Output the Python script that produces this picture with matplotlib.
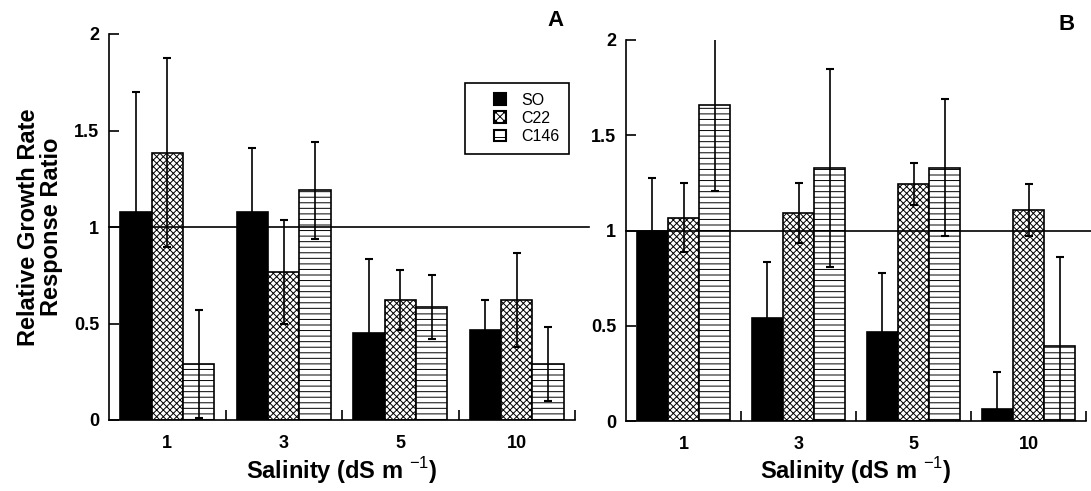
import matplotlib
matplotlib.use('Agg')
import matplotlib.pyplot as plt
import numpy as np
from matplotlib.patches import Patch, Rectangle
from matplotlib.legend_handler import HandlerPatch

plt.rcParams['font.family'] = ['Liberation Sans', 'DejaVu Sans']
plt.rcParams['hatch.linewidth'] = 0.7
plt.rcParams['hatch.color'] = 'black'
plt.rcParams['mathtext.fontset'] = 'custom'
plt.rcParams['mathtext.rm'] = 'Liberation Sans'
plt.rcParams['mathtext.bf'] = 'Liberation Sans:bold'

# ---------------- data ----------------
categories = ['1', '3', '5', '10']
series = ['SO', 'C22', 'C146']

a_so = [1.08, 1.08, 0.45, 0.465]
a_so_err = [0.62, 0.33, 0.385, 0.155]
a_c22 = [1.385, 0.765, 0.62, 0.62]
a_c22_err = [0.49, 0.27, 0.156, 0.243]
a_c146 = [0.29, 1.19, 0.585, 0.29]
a_c146_err = [0.28, 0.25, 0.165, 0.19]

b_so = [1.0, 0.54, 0.467, 0.065]
b_so_err = [0.275, 0.294, 0.31, 0.19]
b_c22 = [1.068, 1.094, 1.243, 1.108]
b_c22_err = [0.18, 0.157, 0.11, 0.135]
b_c146 = [1.66, 1.33, 1.33, 0.393]
b_c146_err = [0.455, 0.52, 0.36, 0.47]

yticks = [0, 0.5, 1, 1.5, 2]
yticklabels = ['0', '0.5', '1', '1.5', '2']

# ---------------- figure ----------------
W, H = 1091, 491
fig = plt.figure(figsize=(W / 100, H / 100), dpi=100)
axA = fig.add_axes([109 / W, 1 - 420 / H, 466 / W, 386 / H])
axB = fig.add_axes([626 / W, 1 - 421 / H, 460 / W, 381 / H])

styles = [
    dict(color='black', hatch=None),
    dict(color='white', hatch='xxxxx'),
    dict(color='white', hatch='---'),
]
bar_w = 0.27
offsets = [-0.27, 0.0, 0.27]
centers = np.arange(len(categories)) + 0.5


def draw_panel(ax, vals_list, errs_list, line_xmax):
    for vals, errs, off, st in zip(vals_list, errs_list, offsets, styles):
        ax.bar(centers + off, vals, bar_w, color=st['color'], edgecolor='black',
               linewidth=1.2, hatch=st['hatch'], zorder=2)
        ax.errorbar(centers + off, vals, yerr=errs, fmt='none', ecolor='black',
                    elinewidth=1.2, capsize=3, capthick=1.5, zorder=3)
    ax.axhline(1, xmin=0, xmax=line_xmax, color='black', lw=1.2, zorder=2.5,
               clip_on=False)
    ax.set_xlim(0, len(categories))
    ax.set_ylim(0, 2)
    for s in ['top', 'right']:
        ax.spines[s].set_visible(False)
    for s in ['left', 'bottom']:
        ax.spines[s].set_linewidth(1.2)
    ax.set_xticks(centers, categories)
    ax.set_xticks(np.arange(1, len(categories) + 1), minor=True)
    ax.tick_params(axis='x', which='major', length=0, pad=11, labelsize=13)
    ax.tick_params(axis='x', which='minor', direction='in', length=7, width=1.2)
    ax.set_yticks(yticks, yticklabels)
    ax.tick_params(axis='y', which='major', direction='in', length=7, width=1.2,
                   pad=7, labelsize=13)
    for lbl in ax.get_xticklabels() + ax.get_yticklabels():
        lbl.set_fontweight('bold')
    ax.set_xlabel('Salinity (dS m $^{-1}$)', fontsize=17, fontweight='bold')
    ax.xaxis.set_label_coords(0.5, -0.09)


draw_panel(axA, [a_so, a_c22, a_c146], [a_so_err, a_c22_err, a_c146_err], 1.03)
draw_panel(axB, [b_so, b_c22, b_c146], [b_so_err, b_c22_err, b_c146_err], 1.011)

axA.set_ylabel('Relative Growth Rate\nResponse Ratio', fontsize=17,
               fontweight='bold', linespacing=1.0)
axA.yaxis.set_label_coords(-0.099, 0.5)

fig.text(555 / W, 1 - 20 / H, 'A', ha='center', va='center', fontsize=16,
         fontweight='bold')
fig.text(1067 / W, 1 - 25 / H, 'B', ha='center', va='center', fontsize=16,
         fontweight='bold')


class SquareHandler(HandlerPatch):
    def create_artists(self, legend, orig_handle, xdescent, ydescent, width,
                       height, fontsize, trans):
        s = height
        p = Rectangle((width - s - xdescent, -ydescent), s, s)
        self.update_prop(p, orig_handle, legend)
        p.set_transform(trans)
        return [p]


handles = [
    Patch(facecolor='black', edgecolor='black', linewidth=1.5),
    Patch(facecolor='white', edgecolor='black', hatch='xxxx', linewidth=1.5),
    Patch(facecolor='white', edgecolor='black', hatch='--', linewidth=1.5),
]
leg = axA.legend(handles, series, loc='upper left',
                 bbox_to_anchor=(465 / W, 1 - 83 / H),
                 bbox_transform=fig.transFigure, frameon=True, fancybox=False,
                 edgecolor='black', framealpha=1, fontsize=11.5,
                 handlelength=1.95, handleheight=0.75, handletextpad=0.95,
                 borderpad=0.6, labelspacing=0.2, borderaxespad=0,
                 handler_map={Patch: SquareHandler()})
leg.get_frame().set_linewidth(1.2)

fig.savefig('out.png', dpi=100)
